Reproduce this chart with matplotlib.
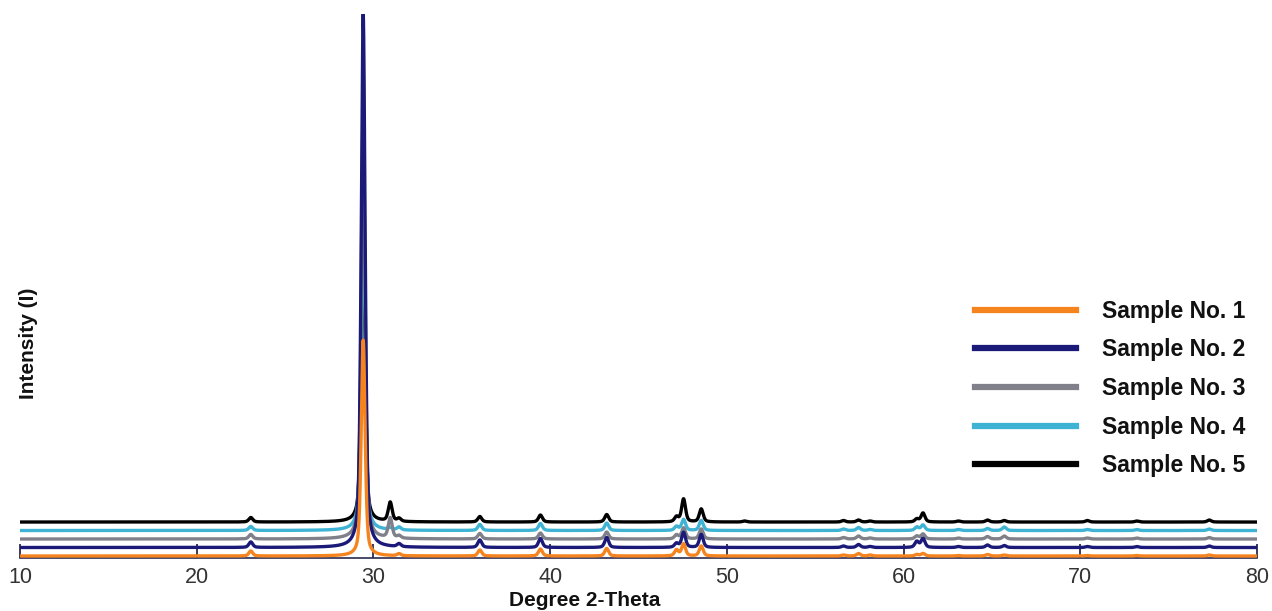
import numpy as np
import matplotlib
matplotlib.use("Agg")
import matplotlib.pyplot as plt

plt.rcParams['font.family'] = ['Liberation Sans', 'DejaVu Sans']

# ---- data ----
labels = ["Sample No. 1", "Sample No. 2", "Sample No. 3", "Sample No. 4", "Sample No. 5"]
colors = ["#F5841F", "#1B1A78", "#80808A", "#3FB3D3", "#000000"]
offsets = [0, 85, 170, 255, 340]   # vertical stacking offset of each pattern

peak_pos = [23.06, 29.42, 30.95, 31.45, 36.02, 39.45, 43.20, 47.15, 47.55, 48.55,
            51.00, 56.60, 57.45, 58.10, 60.75, 61.10, 63.10, 64.75, 65.70, 70.40,
            73.20, 77.30]
peak_fwhm = 0.26

sample1 = [50, 2160, 0, 20, 60, 70, 75, 60, 120, 100,
           0, 10, 25, 10, 15, 25, 5, 15, 10, 5, 5, 10]
sample2 = [55, 5340, 0, 30, 75, 90, 100, 40, 150, 130,
           0, 15, 30, 10, 60, 90, 10, 25, 20, 10, 10, 15]
sample3 = [45, 4260, 200, 25, 55, 60, 70, 40, 110, 100,
           0, 15, 30, 10, 30, 50, 10, 25, 30, 10, 10, 15]
sample4 = [40, 3500, 20, 30, 60, 70, 75, 40, 110, 100,
           0, 15, 30, 10, 35, 55, 10, 20, 35, 10, 10, 15]
sample5 = [45, 3000, 190, 30, 55, 70, 75, 50, 230, 130,
           10, 15, 20, 10, 30, 90, 10, 20, 15, 15, 10, 20]
samples = [sample1, sample2, sample3, sample4, sample5]

xticks = [10, 20, 30, 40, 50, 60, 70, 80]

# ---- profile built from the peak table ----
two_theta = np.linspace(10, 80, 14001)

def pattern(heights):
    y = np.zeros_like(two_theta)
    hw = peak_fwhm / 2.0
    for p, h in zip(peak_pos, heights):
        d = two_theta - p
        lor = hw**2 / (d**2 + hw**2)
        gau = np.exp(-np.log(2) * (d / hw) ** 2)
        y += h * (0.5 * lor + 0.5 * gau)
    return y

W, H = 1272, 611
fig = plt.figure(figsize=(W / 100, H / 100), dpi=100)
ax = fig.add_axes([20 / W, 1 - 558 / H, 1237 / W, 544 / H])

handles = []
for i in reversed(range(5)):
    line, = ax.plot(two_theta, pattern(samples[i]) + offsets[i], color=colors[i],
                    lw=2.4, solid_joinstyle='round', label=labels[i], zorder=2 + (5 - i))
    handles.append(line)
handles = handles[::-1]

top = max(max(s) + o for s, o in zip(samples, offsets))
ax.set_xlim(10, 80)
ax.set_ylim(-20, top)

for s in ["top", "left", "right"]:
    ax.spines[s].set_visible(False)
ax.spines["bottom"].set_color("#2a2a50")
ax.spines["bottom"].set_linewidth(1.2)
ax.set_yticks([])
ax.set_xticks(xticks)
ax.tick_params(axis='x', direction='in', length=10, width=1.3, color="#2a2a50",
               labelsize=15.5, labelcolor="#333333", pad=6.5)

ax.set_xlabel("Degree 2-Theta", fontsize=15, fontweight='bold', color="#111111")
ax.xaxis.set_label_coords((585 - 20) / 1237, (558 - 610) / 544)
ax.xaxis.label.set_va('bottom')

fig.text(29 / W, 1 - 343 / H, "Intensity (I)", rotation=90, ha='center', va='center',
         fontsize=15, fontweight='bold', color="#111111")

leg = ax.legend(handles=handles, loc='center left',
                bbox_to_anchor=(975 / W, 1 - 388.5 / H), bbox_transform=fig.transFigure,
                frameon=False, fontsize=16.5, handlelength=4.4, handletextpad=1.15,
                labelspacing=0.68, borderpad=0, borderaxespad=0)
for lh in leg.get_lines():
    lh.set_linewidth(4.5)
for t in leg.get_texts():
    t.set_fontweight('bold')
    t.set_color("#111111")

fig.savefig("out.png", dpi=100)
